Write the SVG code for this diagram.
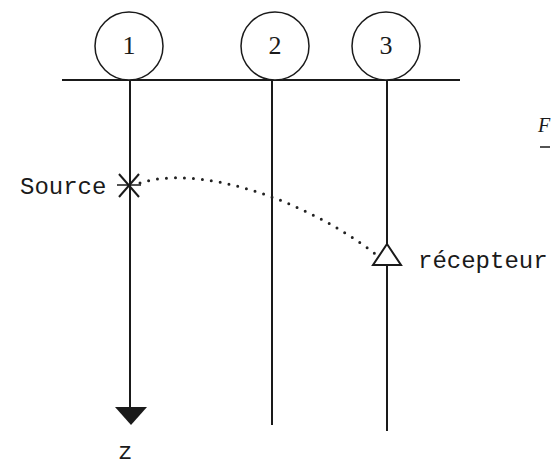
<svg xmlns="http://www.w3.org/2000/svg" width="554" height="468" viewBox="0 0 554 468">
<style>
.ln{stroke:#1a1a1a;stroke-width:2;fill:none}
.circ{stroke:#1a1a1a;stroke-width:1.5;fill:#fff}
.num{font-family:"Liberation Serif",serif;font-size:26px;fill:#1a1a1a;text-anchor:middle}
.mono{font-family:"Liberation Mono",monospace;font-size:24px;fill:#1a1a1a}
</style>
<rect width="554" height="468" fill="#fff"/>
<g id="connectors">
<line class="ln" x1="62" y1="80" x2="460" y2="80"/>
<line class="ln" x1="130" y1="80" x2="130" y2="408"/>
<polygon points="115,407 147,407 131,425" fill="#1a1a1a"/>
<line class="ln" x1="272" y1="80" x2="272" y2="425"/>
<line class="ln" x1="387" y1="80" x2="387" y2="431"/>
<path d="M140,183 C195,165 300,195 378,256" fill="none" stroke="#222" stroke-width="3" stroke-linecap="round" stroke-dasharray="0 9"/>
</g>
<g id="node1"><circle class="circ" cx="129" cy="46" r="34"/><text class="num" x="129" y="54">1</text></g>
<g id="node2"><circle class="circ" cx="275" cy="46" r="34"/><text class="num" x="275" y="54">2</text></g>
<g id="node3"><circle class="circ" cx="386" cy="46" r="34"/><text class="num" x="386" y="54">3</text></g>
<g id="source">
<text class="mono" x="20" y="194">Source</text>
<line x1="119" y1="174" x2="139" y2="197" stroke="#1a1a1a" stroke-width="2"/>
<line x1="119" y1="197" x2="139" y2="174" stroke="#1a1a1a" stroke-width="2"/>
<line x1="117" y1="185" x2="141" y2="185" stroke="#1a1a1a" stroke-width="1.5"/>
</g>
<g id="recepteur">
<polygon points="387,244 373,265 401,265" fill="#fff" stroke="#1a1a1a" stroke-width="2"/>
<text class="mono" x="418" y="268">récepteur</text>
</g>
<g id="zlabel"><text class="mono" x="118" y="459" font-size="20">z</text></g>
<g id="fig">
<text x="538" y="132" font-family="Liberation Serif,serif" font-style="italic" font-size="20" fill="#1a1a1a">F</text>
<line x1="540" y1="147" x2="550" y2="147" stroke="#1a1a1a" stroke-width="1.5"/>
</g>
</svg>
